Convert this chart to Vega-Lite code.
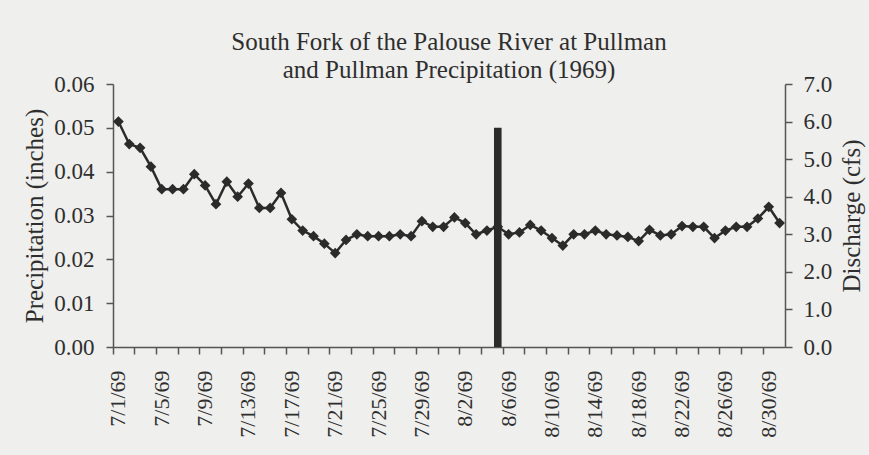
{
  "$schema": "https://vega.github.io/schema/vega-lite/v6.json",
  "width": 672,
  "height": 263,
  "padding": {"left": 22, "top": 30, "right": 7, "bottom": 18},
  "background": "#efefed",
  "title": {
    "text": ["South Fork of the Palouse River at Pullman", "and Pullman Precipitation (1969)"],
    "fontSize": 25,
    "font": "Liberation Serif",
    "fontWeight": "normal",
    "color": "#2e2e2e",
    "lineHeight": 28,
    "offset": -10,
    "anchor": "middle"
  },
  "data": {
    "values": [
      {"date": "7/1/69", "discharge": 6.0, "precip": 0},
      {"date": "7/2/69", "discharge": 5.4, "precip": 0},
      {"date": "7/3/69", "discharge": 5.3, "precip": 0},
      {"date": "7/4/69", "discharge": 4.8, "precip": 0},
      {"date": "7/5/69", "discharge": 4.2, "precip": 0},
      {"date": "7/6/69", "discharge": 4.2, "precip": 0},
      {"date": "7/7/69", "discharge": 4.2, "precip": 0},
      {"date": "7/8/69", "discharge": 4.6, "precip": 0},
      {"date": "7/9/69", "discharge": 4.3, "precip": 0},
      {"date": "7/10/69", "discharge": 3.8, "precip": 0},
      {"date": "7/11/69", "discharge": 4.4, "precip": 0},
      {"date": "7/12/69", "discharge": 4.0, "precip": 0},
      {"date": "7/13/69", "discharge": 4.35, "precip": 0},
      {"date": "7/14/69", "discharge": 3.7, "precip": 0},
      {"date": "7/15/69", "discharge": 3.7, "precip": 0},
      {"date": "7/16/69", "discharge": 4.1, "precip": 0},
      {"date": "7/17/69", "discharge": 3.4, "precip": 0},
      {"date": "7/18/69", "discharge": 3.1, "precip": 0},
      {"date": "7/19/69", "discharge": 2.95, "precip": 0},
      {"date": "7/20/69", "discharge": 2.75, "precip": 0},
      {"date": "7/21/69", "discharge": 2.5, "precip": 0},
      {"date": "7/22/69", "discharge": 2.85, "precip": 0},
      {"date": "7/23/69", "discharge": 3.0, "precip": 0},
      {"date": "7/24/69", "discharge": 2.95, "precip": 0},
      {"date": "7/25/69", "discharge": 2.95, "precip": 0},
      {"date": "7/26/69", "discharge": 2.95, "precip": 0},
      {"date": "7/27/69", "discharge": 3.0, "precip": 0},
      {"date": "7/28/69", "discharge": 2.95, "precip": 0},
      {"date": "7/29/69", "discharge": 3.35, "precip": 0},
      {"date": "7/30/69", "discharge": 3.2, "precip": 0},
      {"date": "7/31/69", "discharge": 3.2, "precip": 0},
      {"date": "8/1/69", "discharge": 3.45, "precip": 0},
      {"date": "8/2/69", "discharge": 3.3, "precip": 0},
      {"date": "8/3/69", "discharge": 3.0, "precip": 0},
      {"date": "8/4/69", "discharge": 3.1, "precip": 0},
      {"date": "8/5/69", "discharge": 3.2, "precip": 0.05},
      {"date": "8/6/69", "discharge": 3.0, "precip": 0},
      {"date": "8/7/69", "discharge": 3.05, "precip": 0},
      {"date": "8/8/69", "discharge": 3.25, "precip": 0},
      {"date": "8/9/69", "discharge": 3.1, "precip": 0},
      {"date": "8/10/69", "discharge": 2.9, "precip": 0},
      {"date": "8/11/69", "discharge": 2.7, "precip": 0},
      {"date": "8/12/69", "discharge": 3.0, "precip": 0},
      {"date": "8/13/69", "discharge": 3.0, "precip": 0},
      {"date": "8/14/69", "discharge": 3.1, "precip": 0},
      {"date": "8/15/69", "discharge": 3.0, "precip": 0},
      {"date": "8/16/69", "discharge": 2.97, "precip": 0},
      {"date": "8/17/69", "discharge": 2.93, "precip": 0},
      {"date": "8/18/69", "discharge": 2.82, "precip": 0},
      {"date": "8/19/69", "discharge": 3.12, "precip": 0},
      {"date": "8/20/69", "discharge": 2.97, "precip": 0},
      {"date": "8/21/69", "discharge": 3.0, "precip": 0},
      {"date": "8/22/69", "discharge": 3.22, "precip": 0},
      {"date": "8/23/69", "discharge": 3.2, "precip": 0},
      {"date": "8/24/69", "discharge": 3.2, "precip": 0},
      {"date": "8/25/69", "discharge": 2.9, "precip": 0},
      {"date": "8/26/69", "discharge": 3.1, "precip": 0},
      {"date": "8/27/69", "discharge": 3.2, "precip": 0},
      {"date": "8/28/69", "discharge": 3.2, "precip": 0},
      {"date": "8/29/69", "discharge": 3.42, "precip": 0},
      {"date": "8/30/69", "discharge": 3.73, "precip": 0},
      {"date": "8/31/69", "discharge": 3.3, "precip": 0}
    ]
  },
  "encoding": {
    "x": {
      "field": "date",
      "type": "ordinal",
      "sort": null,
      "scale": {"type": "band", "paddingInner": 0, "paddingOuter": 0},
      "axis": {
        "title": null,
        "bandPosition": 0,
        "values": ["7/1/69","7/3/69","7/5/69","7/7/69","7/9/69","7/11/69","7/13/69","7/15/69","7/17/69","7/19/69","7/21/69","7/23/69","7/25/69","7/27/69","7/29/69","7/31/69","8/2/69","8/4/69","8/6/69","8/8/69","8/10/69","8/12/69","8/14/69","8/16/69","8/18/69","8/20/69","8/22/69","8/24/69","8/26/69","8/28/69","8/30/69"],
        "labelExpr": "indexof(['7/1/69','7/5/69','7/9/69','7/13/69','7/17/69','7/21/69','7/25/69','7/29/69','8/2/69','8/6/69','8/10/69','8/14/69','8/18/69','8/22/69','8/26/69','8/30/69'], datum.value) >= 0 ? datum.value : ''",
        "labelAngle": -90,
        "labelFontSize": 22,
        "labelPadding": 16,
        "tickSize": 7,
        "labelOverlap": false
      }
    }
  },
  "layer": [
    {
      "mark": {"type": "bar", "width": {"band": 0.7}, "color": "#2b2b2b"},
      "encoding": {
        "y": {
          "field": "precip",
          "type": "quantitative",
          "scale": {"domain": [0, 0.06], "nice": false},
          "axis": {
            "orient": "left",
            "title": "Precipitation (inches)",
            "values": [0, 0.01, 0.02, 0.03, 0.04, 0.05, 0.06],
            "format": ".2f",
            "grid": false,
            "labelPadding": 12,
            "titlePadding": 6
          }
        }
      }
    },
    {
      "mark": {
        "type": "line",
        "color": "#2b2b2b",
        "strokeWidth": 2.5,
        "point": {"shape": "diamond", "size": 115, "filled": true, "color": "#2b2b2b", "opacity": 1}
      },
      "encoding": {
        "y": {
          "field": "discharge",
          "type": "quantitative",
          "scale": {"domain": [0, 7], "nice": false},
          "axis": {
            "orient": "right",
            "title": "Discharge (cfs)",
            "titleAngle": 270,
            "titleBaseline": "top",
            "values": [0, 1, 2, 3, 4, 5, 6, 7],
            "format": ".1f",
            "grid": false,
            "labelPadding": 11,
            "titlePadding": 8
          }
        }
      }
    }
  ],
  "resolve": {"scale": {"y": "independent"}},
  "config": {
    "font": "Liberation Serif",
    "view": {"stroke": null},
    "axis": {
      "domainColor": "#555555",
      "domainWidth": 1.5,
      "tickColor": "#555555",
      "tickWidth": 1.5,
      "tickSize": 7,
      "labelColor": "#2e2e2e",
      "labelFont": "Liberation Serif",
      "labelFontSize": 23,
      "titleFont": "Liberation Serif",
      "titleFontSize": 25,
      "titleFontWeight": "normal",
      "titleColor": "#2e2e2e"
    }
  }
}
